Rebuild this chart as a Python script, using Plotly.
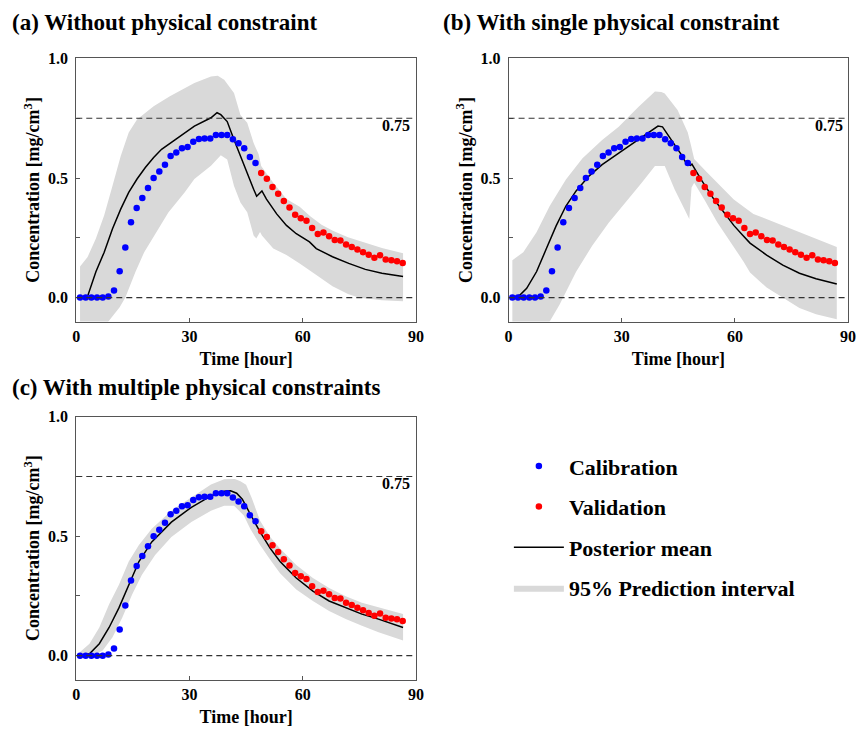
import plotly.graph_objects as go

W, H = 863, 730
FONT = "Liberation Serif"

# ---------------- data ----------------
time_cal = [1, 2.5, 4, 5.5, 7, 8.5, 10, 11.5, 13, 14.5, 16, 17.5, 19, 20.5, 22, 23.5,
            25, 26.5, 28, 29.5, 31, 32.5, 34, 35.5, 37, 38.5, 40, 41.5, 43, 44.5, 46, 47.5]
conc_cal = [0, 0, 0, 0, 0, 0.005, 0.03, 0.11, 0.21, 0.315, 0.375, 0.417, 0.458, 0.50, 0.527, 0.556,
            0.592, 0.607, 0.625, 0.63, 0.652, 0.663, 0.665, 0.665, 0.68, 0.68, 0.68, 0.662, 0.645, 0.625, 0.588, 0.563]
time_val = [49, 50.5, 52, 53.5, 55, 56.5, 58, 59.5, 61, 62.5, 64, 65.5, 67, 68.5, 70, 71.5,
            73, 74.5, 76, 77.5, 79, 80.5, 82, 83.5, 85, 86.5]
conc_val = [0.521, 0.497, 0.462, 0.434, 0.404, 0.377, 0.346, 0.332, 0.321, 0.291, 0.266, 0.272, 0.257,
            0.241, 0.239, 0.222, 0.212, 0.201, 0.19, 0.179, 0.167, 0.177, 0.159, 0.156, 0.152, 0.145]

# (a) without physical constraint
a_mean_t = [1, 2.5, 3.1, 5.2, 7.4, 9.6, 11.8, 13.9, 16.1, 18.3, 20.5, 22.6, 27, 31.3, 35.7, 37.3, 38.3,
            40, 41.8, 43.5, 45.3, 47, 47.8, 49.2, 50.4, 53.1, 55.7, 58.3, 61.8, 63.6, 67.9, 72.2, 76.6, 81, 86.6]
a_mean = [0, 0.0, 0.01, 0.108, 0.19, 0.288, 0.371, 0.44, 0.496, 0.544, 0.586, 0.62, 0.669, 0.717, 0.752, 0.773, 0.765,
          0.736, 0.66, 0.59, 0.522, 0.453, 0.424, 0.446, 0.412, 0.35, 0.302, 0.267, 0.233, 0.205, 0.171, 0.143, 0.118, 0.102, 0.088]
a_up_t = [1, 3, 5.2, 7.4, 9.6, 11.8, 13.9, 16.1, 20.5, 24.8, 31.3, 35.7, 37.5, 39.2, 41.8, 43.5, 45.3, 47,
          48.3, 49, 52.2, 55.7, 59.2, 62, 65, 68, 72, 76, 81, 86.6]
a_up = [0.13, 0.17, 0.247, 0.344, 0.468, 0.593, 0.69, 0.745, 0.80, 0.842, 0.897, 0.925, 0.928, 0.911, 0.856, 0.763, 0.731, 0.646,
        0.60, 0.55, 0.48, 0.412, 0.38, 0.34, 0.305, 0.28, 0.252, 0.232, 0.207, 0.185]
a_lo_t = [1, 4, 7, 10, 11.5, 13, 15.7, 18, 20, 24.4, 28.7, 31.3, 35.7, 38.3, 40, 41.8, 43.5, 45.3, 47, 47.7,
          48.7, 49.2, 52.2, 55.7, 59.2, 61.8, 64, 67.9, 72, 75, 81, 86.6]
a_lo = [-0.2, -0.17, -0.13, -0.07, -0.04, 0.0, 0.108, 0.19, 0.245, 0.356, 0.439, 0.496, 0.551, 0.595, 0.577, 0.467, 0.398, 0.357, 0.26, 0.247,
        0.274, 0.26, 0.205, 0.178, 0.143, 0.116, 0.09, 0.047, 0.015, -0.001, -0.011, -0.015]

# (b) with single physical constraint
b_mean_t = [1, 3, 4.8, 7.4, 10, 12.6, 15.2, 17.9, 21.3, 24.8, 29.2, 33.5, 37.9, 39.6, 40.8, 43.1, 45.7, 47.3,
            48.2, 48.6, 51, 54.4, 57.9, 59.7, 62, 64, 68.4, 72.7, 77.1, 81.5, 87]
b_mean = [0, 0.011, 0.039, 0.108, 0.204, 0.30, 0.383, 0.446, 0.508, 0.556, 0.604, 0.652, 0.70, 0.717, 0.714, 0.66, 0.60, 0.556,
          0.553, 0.558, 0.494, 0.412, 0.34, 0.302, 0.262, 0.228, 0.178, 0.136, 0.102, 0.079, 0.057]
b_up_t = [1, 3.9, 7.4, 10.9, 15.2, 19.6, 24.8, 29.2, 34.4, 38.8, 40.5, 41.4, 44.8, 47.5, 48.3, 49.2, 52.7, 56.2,
          59.7, 64.9, 72.7, 81.5, 87]
b_up = [0.156, 0.19, 0.273, 0.383, 0.494, 0.583, 0.659, 0.714, 0.797, 0.862, 0.86, 0.853, 0.784, 0.69, 0.64, 0.58, 0.522, 0.467,
        0.41, 0.35, 0.302, 0.247, 0.212]
b_lo_t = [1, 5, 8, 10.9, 13.5, 17.9, 22.2, 26.6, 30.9, 35.3, 38.8, 41.4, 44, 46.6, 47.9, 48.5, 49.2, 51.8, 55.3,
          58.8, 62.3, 64, 68.4, 72.7, 77.1, 81.5, 87]
b_lo = [-0.45, -0.32, -0.2, -0.1, -0.03, 0.108, 0.218, 0.314, 0.397, 0.48, 0.55, 0.55, 0.453, 0.371, 0.329, 0.46, 0.48, 0.412, 0.315,
        0.233, 0.15, 0.105, 0.042, -0.001, -0.043, -0.07, -0.091]

# (c) with multiple physical constraints
c_mean_t = [1, 3.5, 6.1, 8.7, 11.3, 13.9, 16.6, 20, 25.2, 30.5, 35.7, 39.2, 40.9, 42.5, 44, 46.1, 48.7, 51.4, 54,
            58.3, 62.7, 67, 71.4, 75.7, 80.1, 86.6]
c_mean = [0, 0.008, 0.05, 0.118, 0.2, 0.297, 0.394, 0.476, 0.559, 0.621, 0.669, 0.688, 0.69, 0.68, 0.655, 0.593, 0.518, 0.449, 0.394,
          0.325, 0.27, 0.229, 0.201, 0.174, 0.153, 0.118]
c_up_t = [1, 3.5, 6.1, 8.7, 11.3, 13.9, 16.6, 20, 25.2, 30.5, 35.7, 39.2, 42, 43.5, 45, 46.5, 48.7, 51.4, 54,
          58.3, 62.7, 67, 71.4, 75.7, 80.1, 86.6]
c_up = [0.015, 0.05, 0.118, 0.215, 0.297, 0.394, 0.463, 0.531, 0.607, 0.662, 0.717, 0.738, 0.74, 0.73, 0.715, 0.66, 0.565, 0.497, 0.449,
        0.38, 0.325, 0.283, 0.249, 0.221, 0.201, 0.174]
c_lo_t = [1, 4.4, 7, 9.6, 12.2, 14.8, 17.4, 20.9, 25.2, 30.5, 35.7, 39.2, 41.8, 44.4, 46.1, 48.7, 51.4, 54,
          58.3, 62.7, 67, 71.4, 75.7, 80.1, 86.6]
c_lo = [-0.005, 0, 0.022, 0.077, 0.16, 0.256, 0.339, 0.421, 0.497, 0.559, 0.607, 0.628, 0.628, 0.587, 0.531, 0.463, 0.401, 0.345,
        0.277, 0.229, 0.187, 0.153, 0.125, 0.098, 0.063]

panel_titles = ["(a) Without physical constraint", "(b) With single physical constraint",
                "(c) With multiple physical constraints"]
ref_levels = [0.0, 0.75]
ref_label = "0.75"
x_ticks = [0, 30, 60, 90]
y_ticks = [0.0, 0.5, 1.0]
x_title = "Time [hour]"
y_title = "Concentration [mg/cm<sup>3</sup>]"
legend_names = ["Calibration", "Validation", "Posterior mean", "95% Prediction interval"]

# ---------------- layout geometry (pixels) ----------------
panels = [
    dict(x0=73.3, x1=417.7, y0=51, y1=317, tx=6, ty=15),
    dict(x0=511.7, x1=856, y0=51, y1=317, tx=443, ty=15),
    dict(x0=73.3, x1=417.7, y0=413.3, y1=679, tx=6, ty=384),
]
series = [(a_mean_t, a_mean, a_up_t, a_up, a_lo_t, a_lo),
          (b_mean_t, b_mean, b_up_t, b_up, b_lo_t, b_lo),
          (c_mean_t, c_mean, c_up_t, c_up, c_lo_t, c_lo)]

fig = go.Figure()
BAND = "#d9d9d9"

for i, (p, s) in enumerate(zip(panels, series)):
    mt, mv, ut, uv, lt, lv = s
    suf = "" if i == 0 else str(i + 1)
    xa, ya = "x" + suf, "y" + suf
    show = (i == 2)
    fig.add_trace(go.Scatter(
        x=list(ut) + list(lt)[::-1], y=list(uv) + list(lv)[::-1],
        fill="toself", fillcolor=BAND, line=dict(width=0, color=BAND), mode="lines",
        name=legend_names[3], showlegend=show, legendrank=4, legendgroup="pi",
        xaxis=xa, yaxis=ya, hoverinfo="skip"))
    fig.add_trace(go.Scatter(
        x=mt, y=mv, mode="lines", line=dict(color="black", width=1.5),
        name=legend_names[2], showlegend=show, legendrank=3, legendgroup="mean",
        xaxis=xa, yaxis=ya))
    fig.add_trace(go.Scatter(
        x=time_cal, y=conc_cal, mode="markers", marker=dict(color="#0000ff", size=6.5),
        name=legend_names[0], showlegend=show, legendrank=1, legendgroup="cal",
        xaxis=xa, yaxis=ya))
    fig.add_trace(go.Scatter(
        x=time_val, y=conc_val, mode="markers", marker=dict(color="#ff0000", size=6.5),
        name=legend_names[1], showlegend=show, legendrank=2, legendgroup="val",
        xaxis=xa, yaxis=ya))

    tick_font = dict(family=FONT, size=16, color="black", weight="bold")
    title_font = dict(family=FONT, size=18, color="black", weight="bold")
    xdom = [p["x0"] / W, p["x1"] / W]
    ydom = [1 - p["y1"] / H, 1 - p["y0"] / H]
    fig.update_layout(**{
        ("xaxis" + suf): dict(
            domain=xdom, anchor=ya, range=[0, 90], tickvals=x_ticks, ticks="inside", ticklen=4,
            tickcolor="#555", showline=True, linecolor="#555", linewidth=1, mirror=True,
            showgrid=False, zeroline=False, tickfont=tick_font,
            title=dict(text=x_title, font=title_font, standoff=8)),
        ("yaxis" + suf): dict(
            domain=ydom, anchor=xa, range=[-0.1, 1.0], tickvals=y_ticks, tickformat=".1f",
            ticks="inside", ticklen=4, tickcolor="#555",
            minor=dict(dtick=0.25, ticks="inside", ticklen=4, tickcolor="#555"),
            showline=True, linecolor="#555", linewidth=1, mirror=True,
            showgrid=False, zeroline=False, tickfont=tick_font, ticklabelstandoff=4,
            title=dict(text=y_title, font=title_font, standoff=3)),
    })
    for lvl in ref_levels:
        fig.add_shape(type="line", xref=xa + " domain", x0=0, x1=1, yref=ya, y0=lvl, y1=lvl,
                      line=dict(color="#333", width=1.2, dash="6px,4px"), layer="above")
    fig.add_annotation(xref=xa + " domain", yref=ya, x=0.99, y=0.765, text=ref_label, showarrow=False,
                       xanchor="right", yanchor="top",
                       font=dict(family=FONT, size=16, color="black", weight="bold"))
    fig.add_annotation(xref="paper", yref="paper", x=p["tx"] / W, y=1 - p["ty"] / H,
                       text=panel_titles[i], showarrow=False, xanchor="left", yanchor="middle",
                       font=dict(family=FONT, size=23, color="black", weight="bold"))

fig.update_layout(
    width=W, height=H, margin=dict(l=0, r=0, t=0, b=0),
    plot_bgcolor="white", paper_bgcolor="white",
    font=dict(family=FONT),
    showlegend=True,
    legend=dict(x=512 / W, y=1 - 442 / H, xanchor="left", yanchor="top",
                font=dict(family=FONT, size=22, color="black", weight="bold"),
                tracegroupgap=9, itemwidth=50, bgcolor="rgba(0,0,0,0)", traceorder="grouped"),
)

fig.write_html("out.html")
